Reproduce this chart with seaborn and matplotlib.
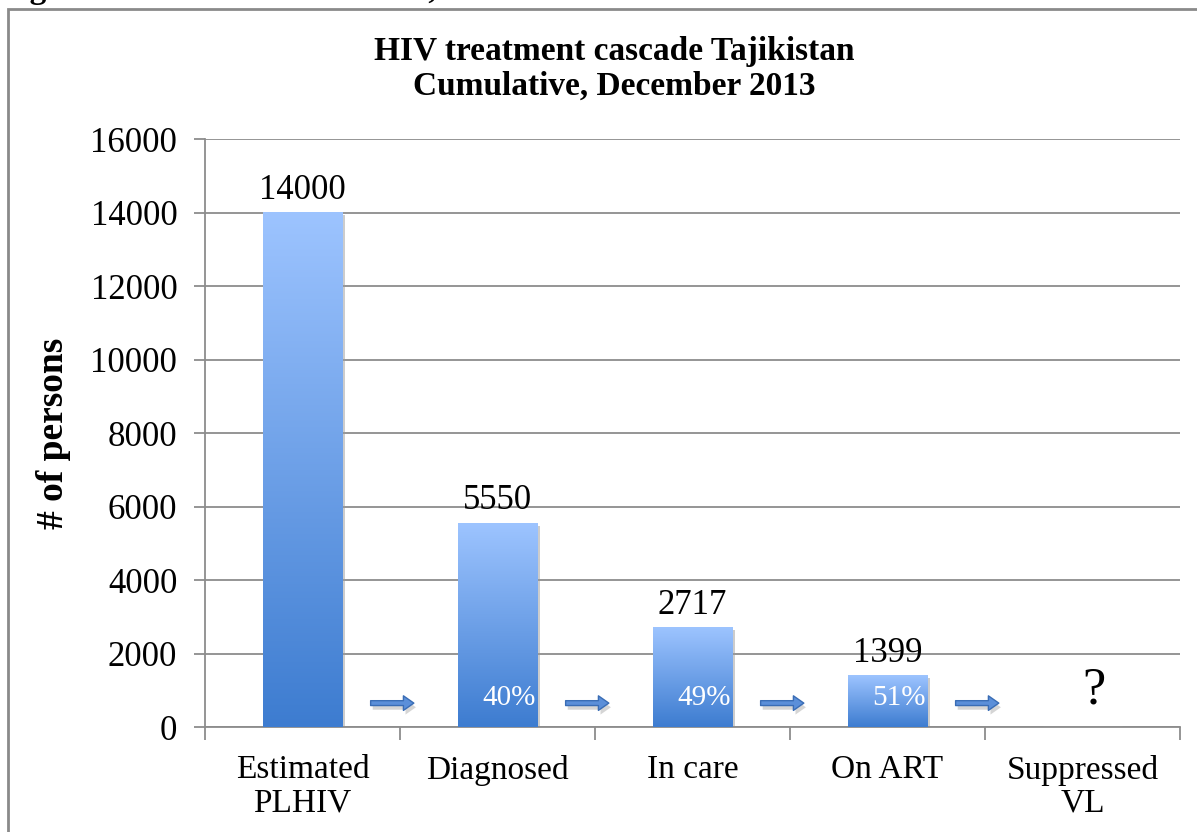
import numpy as np
import pandas as pd
import matplotlib.pyplot as plt
import seaborn as sns
from matplotlib.colors import LinearSegmentedColormap
from matplotlib.patches import Rectangle, FancyArrowPatch
import matplotlib.patheffects as pe

# Data
stages = ['Estimated\nPLHIV', 'Diagnosed', 'In care', 'On ART', 'Suppressed\nVL']
persons = [14000, 5550, 2717, 1399, 0]
value_labels = ['14000', '5550', '2717', '1399', '']
step_pct = ['', '40%', '49%', '51%', '']

df = pd.DataFrame({'stage': stages, 'persons': persons})

sns.set_theme(style='white')
plt.rcParams['font.family'] = ['Liberation Serif', 'DejaVu Serif']
plt.rcParams['text.color'] = 'black'

fig = plt.figure(figsize=(11.97, 8.32), dpi=100)
ax = fig.add_axes([0.1713, 0.1262, 0.8145, 0.7067])

sns.barplot(data=df, x='stage', y='persons', ax=ax, width=0.41,
            color='#6a9fe6', saturation=1, zorder=2)

# ── gradient fill for each bar ──────────────────────────────────────────
grad = LinearSegmentedColormap.from_list('bluegrad', ['#3d7cd0', '#9dc4ff'])
g = np.linspace(0, 1, 256).reshape(-1, 1)
for p in ax.patches:
    h = p.get_height()
    if h <= 0:
        continue
    x0 = p.get_x()
    w = p.get_width()
    p.set_facecolor('none')
    p.set_edgecolor('none')
    shadow = Rectangle((x0, 0), w, h, facecolor='white', edgecolor='none', zorder=2,
                       path_effects=[pe.SimplePatchShadow(offset=(2, -2), shadow_rgbFace='#9a9a9a', alpha=0.5)])
    ax.add_patch(shadow)
    ax.imshow(g, cmap=grad, origin='lower', aspect='auto',
              extent=[x0, x0 + w, 0, h], zorder=3, interpolation='bicubic')

ax.set_xlim(-0.5, 4.5)
ax.set_ylim(0, 16000)
ax.set_yticks(range(0, 16001, 2000))

# value labels above bars
for i, (v, lab) in enumerate(zip(persons, value_labels)):
    if lab:
        ax.annotate(lab, (i, v), xytext=(0, 4), textcoords='offset points',
                    ha='center', va='bottom', fontsize=25, color='black', zorder=5)

# step percentages inside bars
for i, pct in enumerate(step_pct):
    if pct:
        ax.text(i + 0.06, 800, pct, ha='center', va='center', fontsize=21,
                color='white', zorder=5)

# unknown last step
ax.text(4.06, 1000, '?', ha='center', va='center', fontsize=38, color='black', zorder=5)

# arrows between stages
for i in range(4):
    arr = FancyArrowPatch((i + 0.335, 650), (i + 0.585, 650),
                          arrowstyle='simple,head_length=0.75,head_width=1.05,tail_width=0.35',
                          mutation_scale=10, facecolor='#5b8fd9', edgecolor='#3a6db5',
                          linewidth=1, zorder=5,
                          path_effects=[pe.SimplePatchShadow(offset=(1.5, -3), shadow_rgbFace='#888888', alpha=0.35),
                                        pe.Normal()])
    ax.add_patch(arr)

# grid, spines and ticks
ax.grid(axis='y', color='#8c8c8c', linewidth=1.3, zorder=0)
ax.set_axisbelow(True)
for s in ['top', 'right']:
    ax.spines[s].set_visible(False)
for s in ['left', 'bottom']:
    ax.spines[s].set_color('#8c8c8c')
    ax.spines[s].set_linewidth(1.3)

ax.set_xticks(np.arange(-0.5, 4.6, 1.0), minor=True)
ax.tick_params(axis='x', which='major', length=0, pad=20, labelsize=24, labelcolor='black')
ax.tick_params(axis='x', which='minor', length=9, width=1.3, color='#8c8c8c', direction='out', bottom=True)
ax.tick_params(axis='y', length=8, width=1.3, color='#8c8c8c', direction='out', left=True,
               labelsize=25, labelcolor='black', pad=12)
ax.set_xticklabels(stages, linespacing=1.1)

ax.set_xlabel('')
ax.set_ylabel('# of persons', fontsize=27, fontweight='bold', color='black', labelpad=14)

fig.text(0.513, 0.917, 'HIV treatment cascade Tajikistan\nCumulative, December 2013',
         ha='center', va='center', fontsize=24, fontweight='bold', linespacing=1.15, color='black')

# partially visible caption above the chart frame
fig.text(0.0, 1.013, 'Fig. 2: HIV treatment cascade, cumulative', ha='left', va='center',
         fontsize=24, fontweight='bold', color='black')

# chart frame
fig.patches.append(Rectangle((8 / 1197, -0.05), 1.2, 1.039, transform=fig.transFigure,
                             fill=False, edgecolor='#8a8a8a', linewidth=2, zorder=0))

plt.savefig('out.png', dpi=100)
